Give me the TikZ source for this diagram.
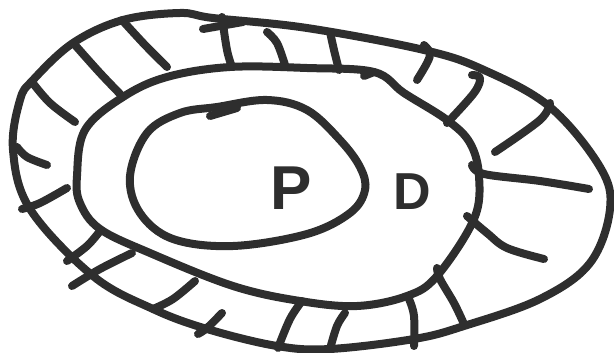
\documentclass[tikz,border=0pt]{standalone}
\usepackage{fontspec}
\setsansfont{Liberation Sans}
\definecolor{ink}{HTML}{2E2E2E}
\tikzset{
  pen/.style={draw=ink, line width=8pt, line cap=round, line join=round},
  ring/.style={pen, smooth cycle, tension=0.6},
  hatch/.style={pen, smooth, tension=0.6},
  letter/.style={text=ink, font=\sffamily\bfseries\fontsize{62}{62}\selectfont, inner sep=0pt}
}
\begin{document}
\begin{tikzpicture}[x=1pt,y=-1pt]
\useasboundingbox (0,0) rectangle (614,353);
% outer ring
\draw[ring] plot coordinates {(13,150) (20,100) (33,80) (73,43) (123,20) (180,13) (213,18) (307,28) (424,50) (484,70) (550,107) (600,167) (610,209) (590,263) (540,299) (464,326) (414,339) (330,349) (277,346) (207,329) (153,309) (93,276) (30,209)};
\draw[pen] (203,29) -- (243,22);
% middle ring
\draw[ring] plot coordinates {(77,176) (85,130) (123,97) (167,77) (230,67) (307,68) (374,72) (404,93) (447,120) (470,143) (479,176) (474,219) (437,276) (407,296) (357,306) (300,301) (233,286) (150,253) (100,229) (80,203)};
\draw[pen] (364,76) -- (374,72);
% inner ring
\draw[ring] plot coordinates {(130,176) (147,133) (180,113) (217,107) (267,100) (307,110) (340,140) (360,167) (365,190) (350,213) (307,234) (233,246) (173,239) (140,213)};
\draw[pen] (210,116) -- (237,108);
% hatches
\draw[hatch] plot coordinates {(122,20) (145,45) (167,67)};
\draw[hatch] plot coordinates {(75,45) (100,73) (123,97)};
\draw[hatch] plot coordinates {(32,82) (50,103) (75,122)};
\draw[hatch] plot coordinates {(17,147) (27,157) (47,165)};
\draw[hatch] plot coordinates {(222,17) (227,50) (232,67)};
\draw[hatch] plot coordinates {(267,32) (277,43) (285,65)};
\draw[hatch] plot coordinates {(330,32) (334,50) (339,70)};
\draw[hatch] plot coordinates {(424,45) (430,53) (427,63) (417,80)};
\draw[hatch] plot coordinates {(472,75) (480,78) (474,93) (447,123)};
\draw[hatch] plot coordinates {(550,103) (540,120) (495,152)};
\draw[hatch] plot coordinates {(472,165) (484,174) (540,181) (589,189)};
\draw[hatch] plot coordinates {(467,216) (487,233) (507,248) (544,259)};
\draw[hatch] plot coordinates {(437,268) (440,279) (454,303) (464,324)};
\draw[hatch] plot coordinates {(409,299) (414,316) (414,346)};
\draw[hatch] plot coordinates {(345,313) (337,326) (330,349)};
\draw[hatch] plot coordinates {(67,188) (40,203) (22,209)};
\draw[hatch] plot coordinates {(100,231) (87,246) (67,261)};
\draw[hatch] plot coordinates {(132,253) (100,269) (72,286)};
\draw[hatch] plot coordinates {(195,281) (173,299) (153,309)};
\draw[hatch] plot coordinates {(222,313) (207,328) (198,334)};
\draw[hatch] plot coordinates {(302,301) (290,319) (278,348)};
% letters
\node[letter] (p) at (291,188) {P};
\node[letter, font=\sffamily\bfseries\fontsize{52}{52}\selectfont] (d) at (412,192) {D};
\end{tikzpicture}
\end{document}
